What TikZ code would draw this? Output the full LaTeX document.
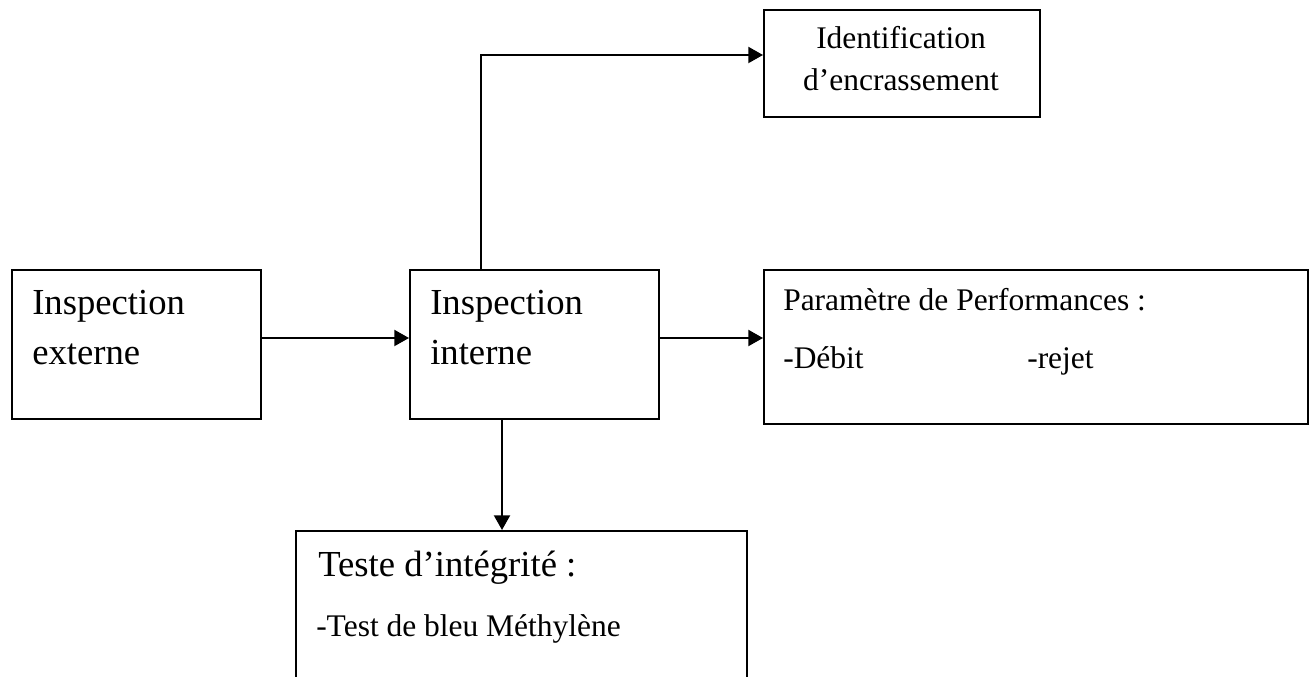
\documentclass[tikz,border=0pt]{standalone}
\usepackage{fontspec}
\setmainfont{Liberation Serif}
\usetikzlibrary{arrows.meta}
\begin{document}
\begin{tikzpicture}[x=0.75pt,y=-0.75pt,
  box/.style={draw, line width=1.4pt, inner sep=0pt, anchor=north west},
  big/.style={inner sep=0pt, font=\fontsize{27.5pt}{33pt}\selectfont},
  small/.style={inner sep=0pt, font=\fontsize{23.6pt}{28pt}\selectfont},
  arr/.style={line width=1.5pt, -{Triangle[length=11pt,width=12pt]}}]
\clip (0,0) rectangle (1311,677);
\useasboundingbox (0,0) rectangle (1311,677);
% boxes
\node[box, minimum width=186.75pt, minimum height=111.75pt] (A) at (11,269) {};
\node[box, minimum width=186.75pt, minimum height=111.75pt] (B) at (409,269) {};
\node[box, minimum width=207pt, minimum height=80.25pt] (C) at (763,9) {};
\node[box, minimum width=408pt, minimum height=115.5pt] (D) at (763,269) {};
\node[box, minimum width=338.25pt, minimum height=150pt] (E) at (295,530) {};
% texts
\node[big, anchor=base west] (a1) at (32,315) {Inspection};
\node[big, anchor=base west] (a2) at (32,365) {externe};
\node[big, anchor=base west] (b1) at (430,315) {Inspection};
\node[big, anchor=base west] (b2) at (430,365) {interne};
\node[small, anchor=base] (c1) at (901,49) {Identification};
\node[small, anchor=base] (c2) at (901,91) {d’encrassement};
\node[small, anchor=base west] (d1) at (783,311) {Paramètre de Performances :};
\node[small, anchor=base west] (d2) at (783,369) {-Débit};
\node[small, anchor=base west] (d3) at (1027,369) {-rejet};
\node[big, anchor=base west] (e1) at (318,576) {Teste d’intégrité :};
\node[small, anchor=base west] (e2) at (316,636) {-Test de bleu Méthylène};
% connector helpers
\coordinate (yab) at (0,338);
\coordinate (xbc) at (481,0);
\coordinate (ybc) at (0,55);
\coordinate (xbe) at (502,0);
% connectors
\draw[arr] (A.east |- yab) -- (B.west |- yab);
\draw[arr] (B.east |- yab) -- (D.west |- yab);
\draw[arr] (B.north -| xbc) |- (C.west |- ybc);
\draw[arr] (B.south -| xbe) -- (E.north -| xbe);
\end{tikzpicture}
\end{document}
